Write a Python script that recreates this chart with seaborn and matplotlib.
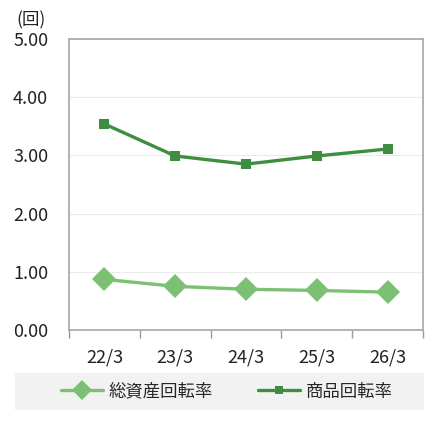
import matplotlib
matplotlib.use("Agg")
import matplotlib.pyplot as plt
import seaborn as sns
import pandas as pd
import numpy as np
from matplotlib.ticker import FixedLocator
from matplotlib.lines import Line2D
from matplotlib.patches import Rectangle

categories = ["22/3", "23/3", "24/3", "25/3", "26/3"]
total_asset_turnover = [0.87, 0.75, 0.70, 0.68, 0.65]
inventory_turnover = [3.54, 2.99, 2.85, 2.99, 3.11]
series_names = ["総資産回転率", "商品回転率"]
y_ticks = [0.0, 1.0, 2.0, 3.0, 4.0, 5.0]

sns.set_theme(style="white")
plt.rcParams['font.family'] = ['Noto Sans CJK JP', 'DejaVu Sans']

df = pd.DataFrame({
    "x": categories * 2,
    "value": total_asset_turnover + inventory_turnover,
    "series": [series_names[0]] * 5 + [series_names[1]] * 5,
})

fig = plt.figure(figsize=(4.4, 4.24), dpi=100)
ax = fig.add_axes([69/440, 1-330/424, (423-69)/440, (330-39)/424])

light = "#7CC173"
dark = "#3E8E41"
sns.lineplot(data=df, x="x", y="value", hue="series", style="series",
             palette=[light, dark], markers=["D", "s"], dashes=False,
             markersize=12, linewidth=2.4, markeredgewidth=0, ax=ax, sort=False,
             legend=False)
for ln in ax.get_lines():
    if ln.get_marker() == "s":
        ln.set_markersize(7.5)

ax.set_xlim(-0.5, 4.5)
ax.set_ylim(0, 5)
ax.set_yticks(y_ticks)
ax.set_yticklabels([f"{v:.2f}" for v in y_ticks])
ax.set_xticks(range(len(categories)))
ax.set_xticklabels(categories)
ax.xaxis.set_minor_locator(FixedLocator(np.arange(-0.5, 5, 1.0)))
ax.tick_params(axis="x", which="major", length=0, pad=13, labelsize=13, colors="#222222")
ax.tick_params(axis="x", which="minor", length=6, width=1, color="#999999", direction="out", bottom=True)
ax.tick_params(axis="y", which="major", length=6, width=1, color="#999999", direction="out",
               pad=9, labelsize=13, labelcolor="#222222")
ax.set_xlabel("")
ax.set_ylabel("")
ax.grid(axis="y", color="#EBEBEB", linewidth=0.8)
ax.set_axisbelow(True)
for s in ax.spines.values():
    s.set_visible(True)
    s.set_color("#A6A6A6")
    s.set_linewidth(1.2)

fig.text(31/440, 1-20/424, "(回)", ha="center", va="center", fontsize=12.5, color="#222222")

fig.patches.append(Rectangle((15/440, 1-410/424), (424-15)/440, (410-373)/424,
                             transform=fig.transFigure, facecolor="#F2F2F2",
                             edgecolor="none", zorder=0))

h = [Line2D([], [], color=light, marker="D", markersize=10, linewidth=2.4, markeredgewidth=0),
     Line2D([], [], color=dark, marker="s", markersize=6, linewidth=2.4, markeredgewidth=0)]
leg = fig.legend(h, series_names, loc="center",
                 bbox_to_anchor=(227/440, 1-391.5/424),
                 ncol=2, frameon=False, fontsize=12.5, handlelength=2.4,
                 handletextpad=0.35, borderaxespad=0, columnspacing=2.6)

fig.savefig("out.png", dpi=100)
